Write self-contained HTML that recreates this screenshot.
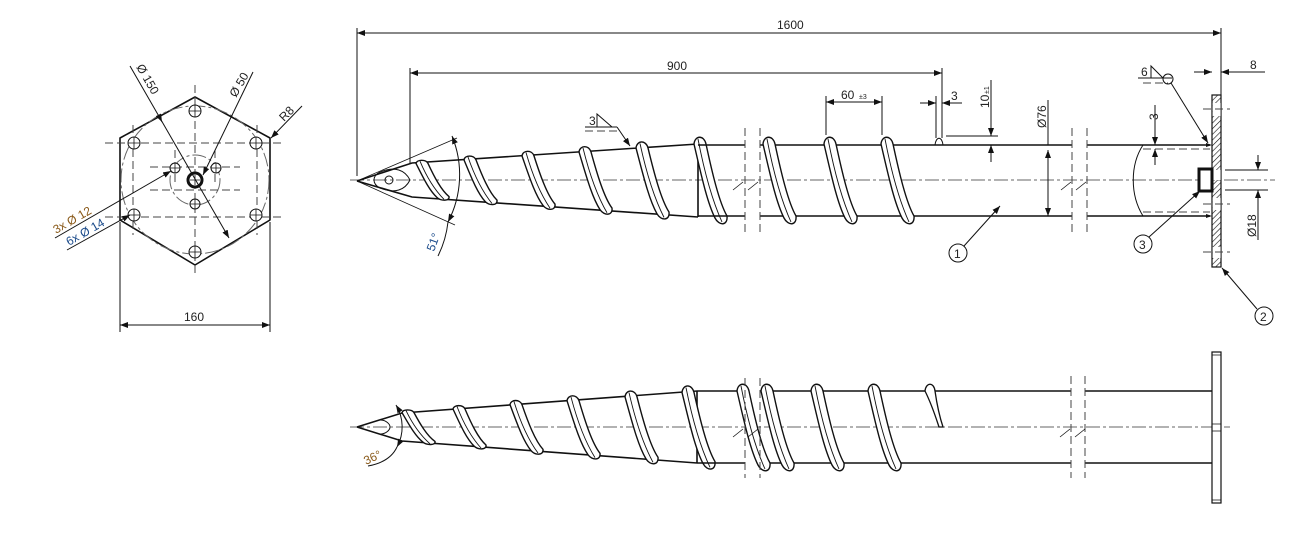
<!DOCTYPE html>
<html><head><meta charset="utf-8"><style>
html,body{margin:0;padding:0;background:#fff}
svg{display:block}
text{font-family:"Liberation Sans",sans-serif;font-size:12px;fill:#222}
.l{stroke:#111;stroke-width:1;fill:none}
.b{stroke:#111;stroke-width:1.6;fill:none}
.c{stroke:#666;stroke-width:1;fill:none;stroke-dasharray:14 3 3 3}
.d{stroke:#444;stroke-width:1;fill:none;stroke-dasharray:8 4}
.t{stroke:#111;stroke-width:0.8;fill:none}
</style></head><body>
<svg width="1302" height="534" viewBox="0 0 1302 534" xmlns="http://www.w3.org/2000/svg">
<defs>
<marker id="a" markerWidth="8" markerHeight="6" refX="8" refY="3" orient="auto-start-reverse" markerUnits="userSpaceOnUse"><path d="M0,0 L8,3 L0,6 Z" fill="#111"/></marker>
<g id="f">
<path vector-effect="non-scaling-stroke" d="M0,-36 C1,-45 10,-45 12,-36 C18,-8 25,22 33,36 C34,46 25,46 21,38 C13,22 7,-6 0,-36 Z" fill="#fff" stroke="#111" stroke-width="1.4"/>
<path vector-effect="non-scaling-stroke" d="M4,-41 C10,-10 18,20 28,42" fill="none" stroke="#111" stroke-width="0.9"/>
</g>
<pattern id="h" width="4" height="4" patternUnits="userSpaceOnUse" patternTransform="rotate(45)"><line x1="0" y1="0" x2="0" y2="4" stroke="#111" stroke-width="1.2"/></pattern>
</defs>

<!-- ===== LEFT END VIEW ===== -->
<polygon class="b" points="195,97 270,138 270,220 195,265 120,220 120,138" stroke-linejoin="round"/>
<circle cx="195" cy="180" r="74" class="c"/>
<circle cx="195" cy="180" r="25" class="c"/>
<g class="d">
<line x1="105" y1="143" x2="285" y2="143"/><line x1="105" y1="217" x2="285" y2="217"/>
<line x1="133" y1="125" x2="133" y2="235"/><line x1="257" y1="125" x2="257" y2="235"/>
<line x1="195" y1="85" x2="195" y2="275"/><line x1="150" y1="167" x2="240" y2="167"/>
<line x1="150" y1="190" x2="240" y2="190"/><line x1="175" y1="150" x2="175" y2="185"/><line x1="215" y1="150" x2="215" y2="185"/>
</g>
<g class="l">
<circle cx="195" cy="111" r="6" fill="#fff"/><circle cx="256" cy="143" r="6" fill="#fff"/><circle cx="256" cy="215" r="6" fill="#fff"/>
<circle cx="195" cy="252" r="6" fill="#fff"/><circle cx="134" cy="215" r="6" fill="#fff"/><circle cx="134" cy="143" r="6" fill="#fff"/>
<circle cx="175" cy="168" r="5" fill="#fff"/><circle cx="216" cy="168" r="5" fill="#fff"/><circle cx="195" cy="204" r="5" fill="#fff"/>
</g>
<g class="t">
<path d="M189,111h12M195,105v12M250,143h12M256,137v12M250,215h12M256,209v12M189,252h12M195,246v12M128,215h12M134,209v12M128,143h12M134,137v12M170,168h10M175,163v10M211,168h10M216,163v10M190,204h10M195,199v10"/>
</g>
<circle cx="195" cy="180" r="7" fill="#fff" stroke="#111" stroke-width="3"/>
<path d="M190,180h10M195,175v10" class="t"/>
<line x1="120" y1="222" x2="120" y2="332" class="l"/><line x1="270" y1="222" x2="270" y2="332" class="l"/>
<line x1="120" y1="325" x2="270" y2="325" class="l" marker-start="url(#a)" marker-end="url(#a)"/>
<text x="184" y="321">160</text>
<line x1="130" y1="66" x2="229" y2="238" class="l" marker-end="url(#a)"/>
<line x1="160" y1="118" x2="162" y2="122" class="l" marker-end="url(#a)"/>
<text transform="translate(136,67) rotate(60)">Ø 150</text>
<line x1="253" y1="72" x2="203" y2="175" class="l" marker-end="url(#a)"/>
<text transform="translate(236,98) rotate(-60)">Ø 50</text>
<line x1="302" y1="106" x2="271" y2="138" class="l" marker-end="url(#a)"/>
<text transform="translate(284,122) rotate(-45)">R8</text>
<line x1="55" y1="238" x2="171" y2="171" class="l" marker-end="url(#a)"/>
<text transform="translate(56,234) rotate(-30)" style="fill:#8a5a1a">3x Ø 12</text>
<line x1="67" y1="250" x2="130" y2="215" class="l" marker-end="url(#a)"/>
<text transform="translate(69,246) rotate(-30)" style="fill:#1a4a8a">6x Ø 14</text>

<!-- ===== TOP SIDE VIEW ===== -->
<line x1="350" y1="180" x2="1275" y2="180" class="c"/>
<path class="b" d="M357,181 L412,163 L698,144 M357,181 L412,197 L698,217 M698,144 V217"/>
<path class="l" d="M380,172 C395,166 405,170 410,180 C405,190 395,194 380,188 C372,184 372,176 380,172 Z"/>
<circle cx="389" cy="180" r="4" class="l"/>
<g>
<use href="#f" transform="translate(416,180) scale(1,0.46)"/>
<use href="#f" transform="translate(464,180) scale(1,0.56)"/>
<use href="#f" transform="translate(522,180) scale(1,0.67)"/>
<use href="#f" transform="translate(579,180) scale(1,0.78)"/>
<use href="#f" transform="translate(636,180) scale(1,0.89)"/>
<use href="#f" transform="translate(694,180) scale(1,1)"/>
</g>
<path class="b" d="M698,145 H745 M698,216 H745 M760,145 H1072 M760,216 H1072 M1087,145 H1210 M1087,216 H1210"/>
<use href="#f" transform="translate(763,180)"/>
<use href="#f" transform="translate(824,180)"/>
<use href="#f" transform="translate(881,180)"/>
<path class="l" d="M935,145 C936,136 942,136 943,145" fill="#fff"/>
<g class="d"><line x1="745" y1="128" x2="745" y2="232"/><line x1="760" y1="128" x2="760" y2="232"/><line x1="1072" y1="128" x2="1072" y2="232"/><line x1="1087" y1="128" x2="1087" y2="232"/></g>
<path class="t" d="M733,190 l10,-8 M748,190 l10,-8 M1061,190 l10,-8 M1076,190 l10,-8"/>
<path class="l" d="M1143,145 C1130,165 1130,195 1143,216"/>
<path class="d" d="M1143,149 H1210 M1143,212 H1210"/>
<rect x="1212" y="95" width="9" height="172" fill="url(#h)" stroke="#111" stroke-width="1.2"/>
<g fill="#fff"><rect x="1212.6" y="103" width="8" height="13"/><rect x="1212.6" y="198" width="8" height="12"/><rect x="1212.6" y="247" width="8" height="11"/><rect x="1212.6" y="170" width="8" height="10"/></g>
<path class="d" d="M1203,109 H1230 M1203,204 H1230 M1203,252 H1230"/>
<rect x="1199" y="169" width="13" height="22" fill="#fff" stroke="#111" stroke-width="3"/>
<path d="M1206,143 l6,2 l-6,2 Z M1206,214 l6,2 l-6,2 Z" fill="#111"/>
<!-- dims top -->
<line x1="357" y1="28" x2="357" y2="176" class="l"/><line x1="1221" y1="28" x2="1221" y2="95" class="l"/>
<line x1="357" y1="33" x2="1221" y2="33" class="l" marker-start="url(#a)" marker-end="url(#a)"/>
<text x="777" y="29">1600</text>
<line x1="410" y1="68" x2="410" y2="163" class="l"/><line x1="942" y1="68" x2="942" y2="138" class="l"/>
<line x1="410" y1="73" x2="942" y2="73" class="l" marker-start="url(#a)" marker-end="url(#a)"/>
<text x="667" y="70">900</text>
<line x1="826" y1="96" x2="826" y2="135" class="l"/><line x1="882" y1="96" x2="882" y2="135" class="l"/>
<line x1="826" y1="102" x2="882" y2="102" class="l" marker-start="url(#a)" marker-end="url(#a)"/>
<text x="841" y="99">60</text><text x="859" y="99" style="font-size:7px">±3</text>
<line x1="936" y1="96" x2="936" y2="138" class="l"/>
<line x1="920" y1="103" x2="936" y2="103" class="l" marker-end="url(#a)"/><line x1="962" y1="103" x2="942" y2="103" class="l" marker-end="url(#a)"/>
<text x="951" y="100">3</text>
<line x1="946" y1="136" x2="998" y2="136" class="l"/>
<line x1="991" y1="80" x2="991" y2="136" class="l" marker-end="url(#a)"/><line x1="991" y1="162" x2="991" y2="145" class="l" marker-end="url(#a)"/>
<text transform="translate(989,108) rotate(-90)">10</text><text transform="translate(989,94) rotate(-90)" style="font-size:7px">±1</text>
<line x1="1048" y1="100" x2="1048" y2="145" class="l"/>
<line x1="1048" y1="150" x2="1048" y2="216" class="l" marker-start="url(#a)" marker-end="url(#a)"/>
<text transform="translate(1046,128) rotate(-90)">Ø76</text>
<line x1="1155" y1="105" x2="1155" y2="145" class="l" marker-end="url(#a)"/><line x1="1155" y1="165" x2="1155" y2="149" class="l" marker-end="url(#a)"/>
<text transform="translate(1158,120) rotate(-90)">3</text>
<line x1="1194" y1="72" x2="1212" y2="72" class="l" marker-end="url(#a)"/><line x1="1265" y1="72" x2="1221" y2="72" class="l" marker-end="url(#a)"/>
<text x="1250" y="69">8</text>
<line x1="1225" y1="170" x2="1268" y2="170" class="l"/><line x1="1225" y1="190" x2="1268" y2="190" class="l"/>
<line x1="1258" y1="155" x2="1258" y2="170" class="l" marker-end="url(#a)"/><line x1="1258" y1="240" x2="1258" y2="190" class="l" marker-end="url(#a)"/>
<text transform="translate(1256,237) rotate(-90)">Ø18</text>
<!-- weld 6 -->
<path class="l" d="M1138,78 H1172 M1151,78 L1151,66 L1163,78"/><path class="d" d="M1143,83 H1168"/>
<text x="1141" y="76">6</text>
<circle cx="1168" cy="79" r="5" class="l"/>
<line x1="1171" y1="83" x2="1208" y2="143" class="l" marker-end="url(#a)"/>
<!-- weld 3 -->
<path class="l" d="M585,127 H617 M597,127 L597,114 L612,127"/><path class="d" d="M585,131 H617"/>
<text x="589" y="125">3</text>
<line x1="617" y1="127" x2="630" y2="146" class="l" marker-end="url(#a)"/>
<!-- balloons -->
<circle cx="958" cy="253" r="9" class="l"/><text x="954" y="258">1</text>
<line x1="964" y1="246" x2="1000" y2="206" class="l" marker-end="url(#a)"/>
<circle cx="1143" cy="244" r="9" class="l"/><text x="1139" y="249">3</text>
<line x1="1149" y1="237" x2="1200" y2="191" class="l" marker-end="url(#a)"/>
<circle cx="1264" cy="316" r="9" class="l"/><text x="1260" y="321">2</text>
<line x1="1257" y1="309" x2="1222" y2="268" class="l" marker-end="url(#a)"/>
<!-- 51 deg -->
<line x1="357" y1="181" x2="457" y2="138" class="t"/><line x1="357" y1="181" x2="455" y2="225" class="t"/>
<path class="l" d="M452,136 A102,102 0 0 1 448,222" marker-start="url(#a)" marker-end="url(#a)"/>
<path class="l" d="M448,222 Q446,240 438,256"/>
<text transform="translate(434,252) rotate(-70)" style="fill:#1a4a8a">51°</text>

<!-- ===== BOTTOM SIDE VIEW ===== -->
<line x1="350" y1="427" x2="1230" y2="427" class="c"/>
<path class="b" d="M357,427 L402,413 L697,391 M357,427 L402,441 L697,463 M697,391 V463"/>
<path class="l" d="M380,420 C386,420 390,424 390,427 C390,430 386,434 380,434"/>
<use href="#f" transform="translate(402,427) scale(1,0.4)"/>
<use href="#f" transform="translate(453,427) scale(1,0.5)"/>
<use href="#f" transform="translate(510,427) scale(1,0.62)"/>
<use href="#f" transform="translate(567,427) scale(1,0.73)"/>
<use href="#f" transform="translate(625,427) scale(1,0.84)"/>
<use href="#f" transform="translate(682,427) scale(1,0.96)"/>
<path class="b" d="M697,391 H745 M697,463 H745 M760,391 H1071 M760,463 H1071 M1085,391 H1212 M1085,463 H1212"/>
<use href="#f" transform="translate(737,427)"/>
<use href="#f" transform="translate(761,427)"/>
<use href="#f" transform="translate(811,427)"/>
<use href="#f" transform="translate(868,427)"/>
<path d="M925,391 C926,382 934,382 935,391 C937,405 940,418 943,427 L939,427 C936,418 932,405 925,391 Z" fill="#fff" stroke="#111" stroke-width="1.3"/>
<g class="d"><line x1="745" y1="378" x2="745" y2="478"/><line x1="760" y1="378" x2="760" y2="478"/><line x1="1071" y1="376" x2="1071" y2="478"/><line x1="1085" y1="376" x2="1085" y2="478"/></g>
<path class="t" d="M733,437 l10,-8 M748,437 l10,-8 M1060,437 l10,-8 M1075,437 l10,-8"/>
<rect x="1212" y="352" width="9" height="151" fill="#fff" stroke="#111" stroke-width="1.2"/>
<path class="t" d="M1212,355 H1221 M1212,424 H1221 M1212,431 H1221 M1212,500 H1221"/>
<path class="l" d="M396,405 A42,42 0 0 1 397,447" marker-start="url(#a)" marker-end="url(#a)"/>
<path class="l" d="M397,447 Q390,462 368,466"/>
<text transform="translate(366,465) rotate(-25)" style="fill:#8a5a1a">36°</text>
</svg>
</body></html>
